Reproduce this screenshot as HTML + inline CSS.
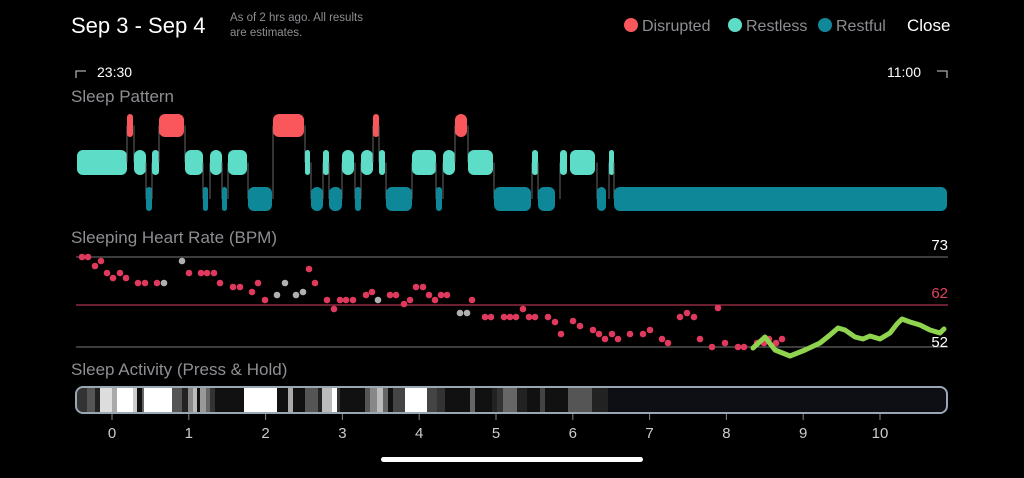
<!DOCTYPE html>
<html><head><meta charset="utf-8"><style>
body{margin:0;background:#000;width:1024px;height:473px;overflow:hidden;font-family:"Liberation Sans",sans-serif}
</style></head><body>
<svg width="1024" height="473" xmlns="http://www.w3.org/2000/svg" font-family="Liberation Sans, sans-serif">
<rect width="1024" height="473" fill="#000"/>
<text x="71" y="33" font-size="22" fill="#fff">Sep 3 - Sep 4</text>
<text x="230" y="21" font-size="11.5" fill="#8e8e93">As of 2 hrs ago. All results</text>
<text x="230" y="36" font-size="11.5" fill="#8e8e93">are estimates.</text>
<circle cx="631" cy="25" r="7" fill="#f9575c"/><text x="642" y="31" font-size="16" fill="#8e8e93">Disrupted</text>
<circle cx="735" cy="25" r="7" fill="#5dddc8"/><text x="746" y="31" font-size="16" fill="#8e8e93">Restless</text>
<circle cx="825" cy="25" r="7" fill="#10889a"/><text x="836" y="31" font-size="16" fill="#8e8e93">Restful</text>
<text x="907" y="31" font-size="17" fill="#fff">Close</text>
<path d="M76 78V71h10" stroke="#aaa" fill="none" stroke-width="1.3"/>
<text x="97" y="77" font-size="14" fill="#fff">23:30</text>
<text x="887" y="77" font-size="14" fill="#fff">11:00</text>
<path d="M937 71h10v7" stroke="#aaa" fill="none" stroke-width="1.3"/>
<text x="71" y="102" font-size="17" fill="#8e8e93">Sleep Pattern</text>
<g id="pat"></g>
<text x="71" y="243" font-size="17" fill="#8e8e93">Sleeping Heart Rate (BPM)</text>
<line x1="76" y1="257" x2="948" y2="257" stroke="#777" stroke-width="1"/>
<line x1="76" y1="305" x2="948" y2="305" stroke="#d8405e" stroke-width="1"/>
<line x1="76" y1="347" x2="948" y2="347" stroke="#777" stroke-width="1"/>
<text x="948" y="250" font-size="15" fill="#fff" text-anchor="end">73</text>
<text x="948" y="298" font-size="15" fill="#e0435f" text-anchor="end">62</text>
<g id="dots"></g>
<polyline fill="none" stroke="#8fd34e" stroke-width="5" stroke-linecap="round" stroke-linejoin="round" points="753,348 765,337 775,350 790,356 805,350 820,343 830,335 838,328 845,330 855,337 863,339 870,336 880,339 890,333 897,324 902,319 910,322 920,325 930,330 940,333 944,329"/>
<text x="948" y="347" font-size="15" fill="#fff" text-anchor="end">52</text>
<text x="71" y="375" font-size="17" fill="#8e8e93">Sleep Activity (Press &amp; Hold)</text>
<defs><clipPath id="bc"><rect x="77" y="388" width="869" height="24" rx="6"/></clipPath></defs>
<g id="bar" clip-path="url(#bc)"></g>
<rect x="76" y="387" width="871" height="26" rx="7" fill="none" stroke="#9aa6b4" stroke-width="2"/>
<g id="ticks" font-size="15" fill="#ccc" text-anchor="middle"></g>
<rect x="381" y="457" width="262" height="5" rx="2.5" fill="#fff"/>
<script>
var ns="http://www.w3.org/2000/svg";
function el(p,t,a){var e=document.createElementNS(ns,t);for(var k in a)e.setAttribute(k,a[k]);p.appendChild(e);return e}
var pat=document.getElementById("pat");
var rows={d:[114,137,"#f9575c"],l:[150,175,"#5dddc8"],f:[187,211,"#0e8898"]};
var segs=[["l",77,127],["d",127,133],["l",134,146],["f",146,152],["l",152,159],["d",159,184],["l",185,203],["f",203,208],["l",210,222],["f",222,227],["l",228,247],["f",248,272],["d",273,304],["l",305,310],["f",311,323],["l",323,329],["f",329,342],["l",342,354],["f",355,361],["l",361,373],["d",373,379],["l",379,385],["f",386,412],["l",412,436],["f",436,442],["l",443,455],["d",455,467],["l",468,493],["f",494,531],["l",532,538],["f",538,555],["l",560,567],["l",570,595],["f",597,606],["l",609,614],["f",614,947]];
var prev=null;
segs.forEach(function(s){var r=rows[s[0]];
if(prev){var ys=[rows[prev][0]+ (rows[prev][1]-rows[prev][0])/2, r[0]+(r[1]-r[0])/2];el(pat,"line",{x1:s[1],x2:s[1],y1:Math.min(ys[0],ys[1]),y2:Math.max(ys[0],ys[1]),stroke:"#666","stroke-width":1});}
var w=s[2]-s[1];el(pat,"rect",{x:s[1],y:r[0],width:w,height:r[1]-r[0],rx:Math.min(6,w/2),fill:r[2]});prev=s[0];});
var D=[[82,257],[88,257],[95,266],[101,261],[107,273],[113,278],[120,273],[126,278],[138,283],[145,283],[157,283],[164,283,1],[182,261,1],[189,273],[201,273],[207,273],[214,273],[220,283],[233,287],[240,287],[252,292],[258,283],[265,300],[277,295,1],[285,283,1],[296,295,1],[303,292,1],[309,269],[315,283],[327,300],[334,309],[340,300],[346,300],[353,300],[366,295],[372,292],[378,300,1],[390,295],[396,295],[404,304],[410,300],[416,287],[423,287],[429,295],[435,300],[441,295],[447,295],[460,313,1],[467,313,1],[472,300],[485,317],[491,317],[504,317],[510,317],[516,317],[523,309],[529,317],[535,317],[548,317],[555,322],[561,334],[573,321],[580,326],[593,330],[599,334],[605,339],[612,334],[618,339],[630,334],[643,334],[650,330],[662,339],[668,343],[680,317],[687,313],[694,317],[700,339],[712,347],[718,308],[725,343],[738,347],[744,347],[757,343],[764,343],[769,339],[776,343],[782,339]];
var dg=document.getElementById("dots");
D.forEach(function(d){el(dg,"circle",{cx:d[0],cy:d[1],r:3.3,fill:d[2]?"#b0b0b0":"#e0395e"})});
var B=[[77,87,"#333"],[87,95,"#555"],[95,100,"#222"],[100,112,"#ddd"],[112,117,"#aaa"],[117,133,"#fff"],[133,137,"#ccc"],[137,142,"#111"],[142,144,"#666"],[144,172,"#fff"],[172,182,"#555"],[182,188,"#222"],[188,193,"#888"],[193,197,"#bbb"],[197,200,"#111"],[200,206,"#999"],[206,210,"#666"],[210,215,"#333"],[215,244,"#111"],[244,277,"#fff"],[277,288,"#111"],[288,293,"#aaa"],[293,305,"#111"],[305,318,"#555"],[318,322,"#222"],[322,332,"#bbb"],[332,337,"#fff"],[337,340,"#333"],[340,365,"#111"],[365,370,"#555"],[370,377,"#888"],[377,383,"#bbb"],[383,388,"#666"],[388,393,"#111"],[393,405,"#444"],[405,427,"#fff"],[427,437,"#444"],[437,445,"#333"],[445,470,"#111"],[470,475,"#666"],[475,492,"#111"],[492,497,"#222"],[497,503,"#333"],[503,517,"#666"],[517,527,"#222"],[527,540,"#111"],[540,545,"#444"],[545,568,"#111"],[568,592,"#555"],[592,608,"#222"],[608,947,"#0d0f15"]];
var bg=document.getElementById("bar");
B.forEach(function(b){el(bg,"rect",{x:b[0],y:386,width:b[1]-b[0],height:28,fill:b[2]})});
var tg=document.getElementById("ticks");
for(var i=0;i<=10;i++){var x=112+i*76.8;el(tg,"line",{x1:x,x2:x,y1:414,y2:420,stroke:"#888"});var t=el(tg,"text",{x:x,y:438});t.textContent=i;}
</script>
</svg>
</body></html>
